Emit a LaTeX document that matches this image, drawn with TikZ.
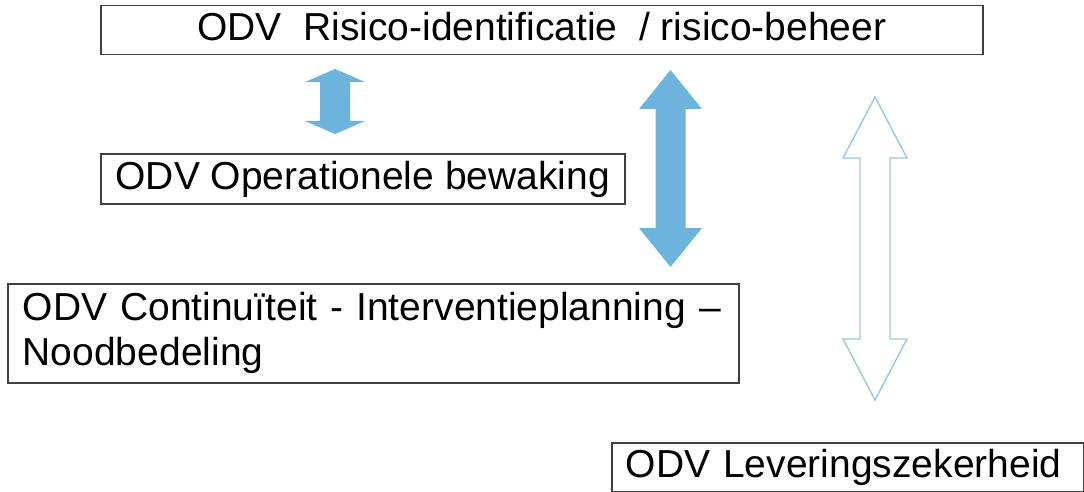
\documentclass[tikz,border=0pt]{standalone}
\usepackage{fontspec}
\setmainfont{Liberation Sans}
\definecolor{arrblue}{RGB}{108,180,222}
\definecolor{arredge}{RGB}{150,200,230}
\definecolor{boxedge}{RGB}{64,64,64}
% #1 style, #2 cx, #3 top, #4 bottom, #5 shaft half, #6 head half, #7 head length
\newcommand\vdarrow[7]{%
  \draw[#1] (#2,#3) -- ({#2+#6},{#3+#7}) -- ({#2+#5},{#3+#7}) -- ({#2+#5},{#4-#7})
    -- ({#2+#6},{#4-#7}) -- (#2,#4) -- ({#2-#6},{#4-#7}) -- ({#2-#5},{#4-#7})
    -- ({#2-#5},{#3+#7}) -- ({#2-#6},{#3+#7}) -- cycle;}
\begin{document}
\begin{tikzpicture}[x=1pt,y=-1pt,
  box/.style={draw=boxedge, line width=1.5pt, anchor=north west, inner sep=0pt,
    font=\fontsize{39}{45}\selectfont},
  oneline/.style={text height=29pt, text depth=8pt},
  arrowfill/.style={fill=arrblue, draw=none},
  arrowline/.style={draw=arredge, line width=1.4pt, fill=white, line join=miter}]
\useasboundingbox (0,0) rectangle (1084,492);
\node[box, oneline, minimum width=882pt, minimum height=49pt] (risico) at (100,5)
  {ODV\ \ Risico-identificatie\ \ / risico-beheer};
\node[box, oneline, minimum width=524pt, minimum height=50pt] (bewaking) at (100,153)
  {ODV Operationele bewaking};
\node[box, align=left, inner xsep=15pt, text width=701pt, minimum height=99pt] (continuiteit) at (7,283)
  {ODV Continuïteit - Interventieplanning –\\Noodbedeling};
\node[box, oneline, align=left, inner xsep=14pt, text width=444pt, minimum height=49pt] (levering) at (611,442)
  {ODV Leveringszekerheid};
\vdarrow{arrowfill}{335}{69}{134}{15}{30}{13}
\vdarrow{arrowfill}{670.5}{70}{267}{15}{31.5}{39}
\vdarrow{arrowline}{875}{97}{400}{15}{32}{61}
\end{tikzpicture}
\end{document}
